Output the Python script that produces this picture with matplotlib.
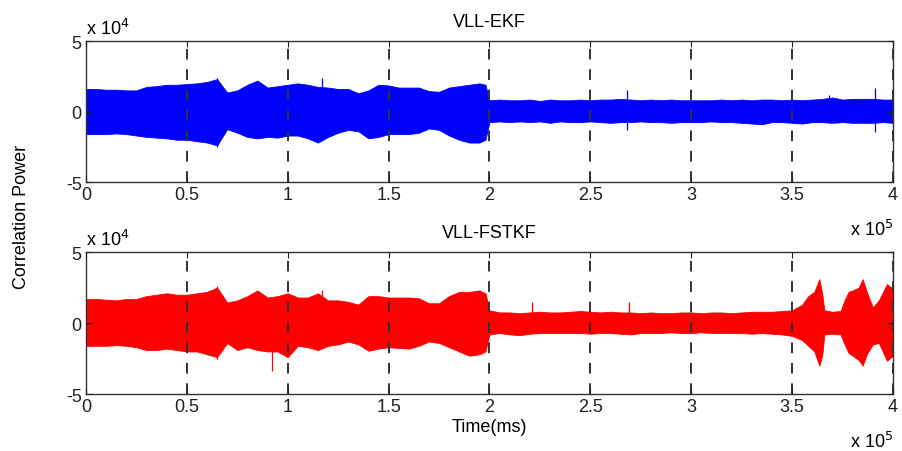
import numpy as np
import matplotlib.pyplot as plt

plt.rcParams['font.family'] = ['Liberation Sans', 'DejaVu Sans']

# time axis in units of 1e5 ms, amplitudes in units of 1e4
t_ekf = [0.00, 0.05, 0.10, 0.15, 0.20, 0.25, 0.30, 0.35, 0.40, 0.45,
         0.50, 0.55, 0.60, 0.65, 0.70, 0.75, 0.80, 0.85, 0.90, 0.95,
         1.00, 1.05, 1.10, 1.15, 1.20, 1.25, 1.30, 1.35, 1.40, 1.45,
         1.50, 1.55, 1.60, 1.65, 1.70, 1.75, 1.80, 1.85, 1.90, 1.95,
         1.98, 2.00, 2.05, 2.10, 2.15, 2.20, 2.25, 2.30, 2.35, 2.40,
         2.45, 2.50, 2.55, 2.60, 2.65, 2.70, 2.75, 2.80, 2.85, 2.90,
         2.95, 3.00, 3.05, 3.10, 3.15, 3.20, 3.25, 3.30, 3.35, 3.40,
         3.45, 3.50, 3.55, 3.60, 3.65, 3.70, 3.75, 3.80, 3.85, 3.90,
         3.95, 4.00]
ekf_hi = [1.6, 1.6, 1.55, 1.55, 1.5, 1.5, 1.75, 1.8, 1.9, 1.9,
          1.95, 2.0, 2.1, 2.3, 1.35, 1.5, 1.9, 2.2, 1.7, 1.8,
          1.9, 2.0, 1.9, 1.75, 1.7, 1.6, 1.6, 1.3, 1.5, 1.9,
          1.85, 1.7, 1.7, 1.7, 1.45, 1.4, 1.7, 1.8, 1.9, 2.0,
          1.9, 0.8, 0.85, 0.8, 0.8, 0.85, 0.75, 0.85, 0.8, 0.8,
          0.85, 0.8, 0.85, 0.85, 0.9, 0.85, 0.8, 0.85, 0.8, 0.85,
          0.8, 0.8, 0.8, 0.8, 0.85, 0.8, 0.85, 0.8, 0.85, 0.85,
          0.8, 0.85, 0.8, 0.85, 0.9, 1.0, 0.85, 0.9, 0.9, 0.9,
          0.85, 0.85]
ekf_lo = [-1.6, -1.6, -1.6, -1.55, -1.6, -1.7, -1.8, -1.85, -1.9, -2.0,
          -2.0, -2.1, -2.2, -2.4, -1.25, -1.5, -1.8, -1.9, -1.8, -1.85,
          -1.7, -1.7, -1.9, -2.2, -1.8, -1.5, -1.3, -1.4, -1.9, -1.8,
          -1.6, -1.6, -1.6, -1.5, -1.2, -1.3, -1.7, -2.0, -2.2, -2.2,
          -2.0, -0.75, -0.7, -0.75, -0.7, -0.75, -0.7, -0.8, -0.7, -0.75,
          -0.75, -0.7, -0.75, -0.8, -0.75, -0.75, -0.7, -0.75, -0.75, -0.8,
          -0.75, -0.75, -0.75, -0.7, -0.75, -0.75, -0.8, -0.85, -0.9, -0.75,
          -0.75, -0.8, -0.85, -0.75, -0.75, -0.8, -0.75, -0.8, -0.8, -0.8,
          -0.75, -0.8]
ekf_spk_t = [0.65, 1.17, 2.68, 3.685, 3.91]
ekf_spk_hi = [2.4, 2.4, 1.5, 1.2, 1.7]
ekf_spk_lo = [-2.5, -1.0, -1.3, -0.8, -1.45]

t_fst = [0.00, 0.05, 0.10, 0.15, 0.20, 0.25, 0.30, 0.35, 0.40, 0.45,
         0.50, 0.55, 0.60, 0.65, 0.70, 0.75, 0.80, 0.85, 0.90, 0.95,
         1.00, 1.05, 1.10, 1.15, 1.20, 1.25, 1.30, 1.35, 1.40, 1.45,
         1.50, 1.55, 1.60, 1.65, 1.70, 1.75, 1.80, 1.85, 1.90, 1.95,
         1.98, 2.00, 2.05, 2.10, 2.15, 2.20, 2.25, 2.30, 2.35, 2.40,
         2.45, 2.50, 2.55, 2.60, 2.65, 2.70, 2.75, 2.80, 2.85, 2.90,
         2.95, 3.00, 3.05, 3.10, 3.15, 3.20, 3.25, 3.30, 3.35, 3.40,
         3.45, 3.50, 3.55, 3.58, 3.61, 3.635, 3.65, 3.66, 3.70, 3.74,
         3.76, 3.78, 3.80, 3.83, 3.85, 3.87, 3.90, 3.93, 3.97, 4.00]
fst_hi = [1.7, 1.7, 1.65, 1.6, 1.7, 1.7, 1.9, 2.0, 2.1, 2.0,
          2.0, 2.1, 2.2, 2.5, 1.45, 1.6, 1.9, 2.3, 1.8, 1.9,
          2.1, 1.8, 1.8, 2.1, 1.6, 1.6, 1.5, 1.3, 1.9, 1.9,
          1.8, 1.8, 1.8, 1.75, 1.4, 1.4, 1.9, 2.2, 2.2, 2.3,
          2.1, 0.9, 0.75, 0.75, 0.7, 0.75, 0.8, 0.75, 0.75, 0.8,
          0.85, 0.8, 0.75, 0.8, 0.75, 0.75, 0.7, 0.75, 0.7, 0.7,
          0.75, 0.75, 0.7, 0.75, 0.75, 0.7, 0.75, 0.8, 0.8, 0.8,
          0.85, 0.9, 1.3, 1.9, 2.2, 3.1, 2.0, 0.9, 0.8, 0.85,
          1.6, 2.2, 2.3, 2.5, 3.1, 2.2, 1.1, 1.6, 2.75, 2.4]
fst_lo = [-1.6, -1.6, -1.6, -1.55, -1.6, -1.7, -1.9, -1.9, -1.8, -1.9,
          -2.0, -2.0, -2.2, -2.4, -1.4, -1.9, -1.7, -1.9, -2.0, -2.0,
          -2.4, -1.6, -1.7, -1.9, -1.6, -1.5, -1.3, -1.5, -1.95, -1.8,
          -1.7, -1.75, -1.8, -1.6, -1.3, -1.4, -1.7, -2.0, -2.3, -2.2,
          -2.0, -0.8, -0.7, -0.8, -0.85, -0.75, -0.7, -0.7, -0.7, -0.7,
          -0.7, -0.75, -0.7, -0.7, -0.75, -0.8, -0.7, -0.7, -0.7, -0.65,
          -0.7, -0.7, -0.65, -0.7, -0.7, -0.7, -0.7, -0.75, -0.7, -0.75,
          -0.8, -0.9, -1.2, -1.6, -2.0, -3.0, -2.2, -0.8, -0.75, -0.8,
          -1.5, -2.1, -2.3, -2.6, -3.0, -2.2, -1.5, -1.4, -2.65, -2.3]
fst_spk_t = [0.65, 0.92, 1.17, 2.21, 2.69]
fst_spk_hi = [2.6, 1.5, 2.3, 1.46, 1.46]
fst_spk_lo = [-2.5, -3.4, -1.5, -0.7, -0.7]

titles = ['VLL-EKF', 'VLL-FSTKF']
xticks = [0, 0.5, 1, 1.5, 2, 2.5, 3, 3.5, 4]
xtick_labels = ['0', '0.5', '1', '1.5', '2', '2.5', '3', '3.5', '4']
yticks = [-5, 0, 5]

fig = plt.figure(figsize=(9.03, 4.52), dpi=100)
ax0 = fig.add_axes([0.0952, 0.595, 0.8937, 0.312])
ax1 = fig.add_axes([0.0952, 0.126, 0.8937, 0.314])

series = [(t_ekf, ekf_hi, ekf_lo, ekf_spk_t, ekf_spk_hi, ekf_spk_lo, '#0000ff'),
          (t_fst, fst_hi, fst_lo, fst_spk_t, fst_spk_hi, fst_spk_lo, '#ff0000')]

for ax, title, (t, hi, lo, st, sh, sl, c) in zip([ax0, ax1], titles, series):
    ax.fill_between(t, lo, hi, color=c, lw=0.6, edgecolor=c)
    ax.vlines(st, sl, sh, color=c, lw=0.9)
    ax.set_xlim(0, 4)
    ax.set_ylim(-5, 5)
    ax.set_xticks(xticks)
    ax.set_xticklabels(xtick_labels)
    ax.set_yticks(yticks)
    ax.set_yticklabels(['-5', '0', '5'])
    ax.tick_params(direction='in', length=4, top=True, right=True,
                   labelsize=13, colors='#222222', pad=3)
    ax.grid(axis='x', color='#333333', ls=(0, (5.5, 5)), lw=1.4)
    ax.set_axisbelow(False)
    for s in ax.spines.values():
        s.set_color('#333333')
        s.set_linewidth(1.0)
    ax.set_title(title, fontsize=13, pad=11)
    ax.text(0.0, 1.02, 'x 10$^4$', transform=ax.transAxes, fontsize=13,
            ha='left', va='bottom')
    ax.text(1.0, -0.26, 'x 10$^5$', transform=ax.transAxes, fontsize=13,
            ha='right', va='top')

ax1.set_xlabel('Time(ms)', fontsize=13, labelpad=2)
fig.text(0.024, 0.52, 'Correlation Power', rotation=90, fontsize=13,
         ha='center', va='center')

fig.savefig('out.png', dpi=100)
